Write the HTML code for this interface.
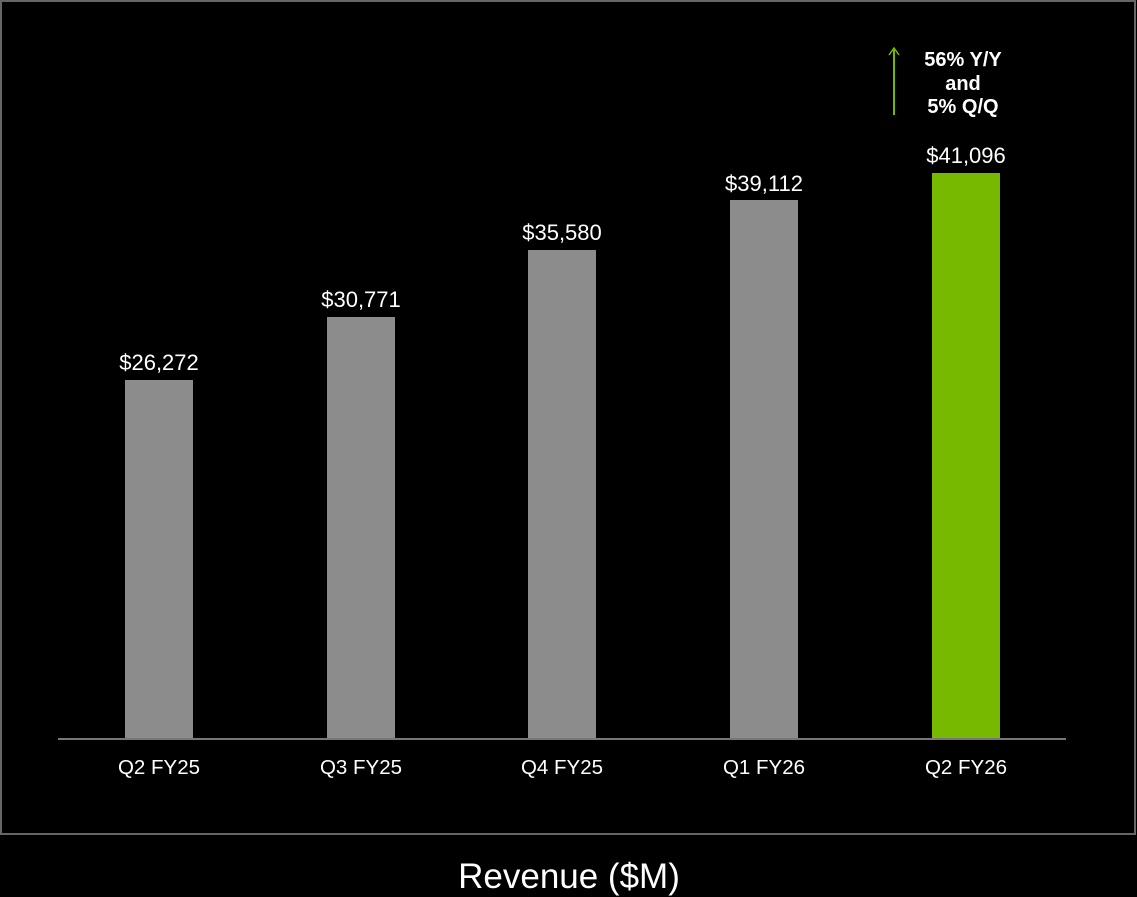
<!DOCTYPE html>
<html><head><style>
html,body{margin:0;padding:0;background:#000;width:1137px;height:897px;overflow:hidden}
svg{display:block}
text{font-family:"Liberation Sans",sans-serif;fill:#fff}
</style></head><body>
<svg width="1137" height="897" viewBox="0 0 1137 897">
<rect x="1" y="1" width="1134" height="833" fill="none" stroke="#666" stroke-width="2"/>
<g fill="#8c8c8c">
<rect x="125" y="380" width="68" height="358"/>
<rect x="327" y="317" width="68" height="421"/>
<rect x="528" y="250" width="68" height="488"/>
<rect x="730" y="200" width="68" height="538"/>
</g>
<rect x="932" y="173" width="68" height="565" fill="#76b900"/>
<line x1="58" y1="739" x2="1066" y2="739" stroke="#777" stroke-width="2"/>
<g font-size="22" text-anchor="middle">
<text x="159" y="370">$26,272</text>
<text x="361" y="307">$30,771</text>
<text x="562" y="240">$35,580</text>
<text x="764" y="191">$39,112</text>
<text x="966" y="163">$41,096</text>
</g>
<g font-size="20.5" text-anchor="middle">
<text x="159" y="774">Q2 FY25</text>
<text x="361" y="774">Q3 FY25</text>
<text x="562" y="774">Q4 FY25</text>
<text x="764" y="774">Q1 FY26</text>
<text x="966" y="774">Q2 FY26</text>
</g>
<g font-size="20" font-weight="bold" text-anchor="middle">
<text x="963" y="66">56% Y/Y</text>
<text x="963" y="90">and</text>
<text x="963" y="113">5% Q/Q</text>
</g>
<line x1="894" y1="115" x2="894" y2="49" stroke="#76b900" stroke-width="2"/>
<polyline points="889,55 894,48 899,55" fill="none" stroke="#76b900" stroke-width="1.5"/>
<text x="569" y="888" font-size="35" text-anchor="middle">Revenue ($M)</text>
</svg>
</body></html>
